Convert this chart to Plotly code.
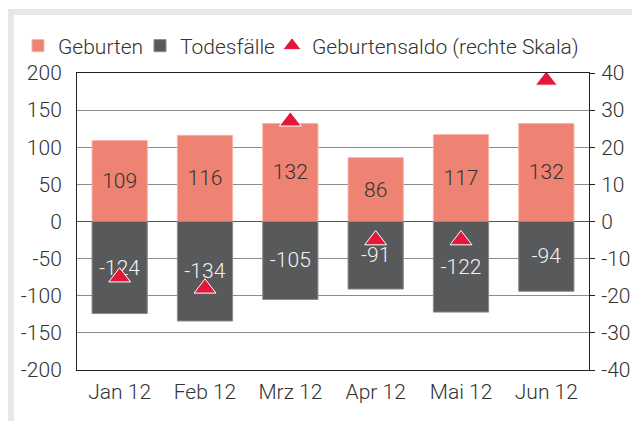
import plotly.graph_objects as go

months = ["Jan 12", "Feb 12", "Mrz 12", "Apr 12", "Mai 12", "Jun 12"]
geburten = [109, 116, 132, 86, 117, 132]
todesfaelle = [-124, -134, -105, -91, -122, -94]
saldo = [-15, -18, 27, -5, -5, 38]

left_ticks = [200, 150, 100, 50, 0, -50, -100, -150, -200]
right_ticks = [40, 30, 20, 10, 0, -10, -20, -30, -40]

C_GEB = "#EE8273"
C_TOD = "#58595B"
C_SAL = "#E2173A"
TXT = "#333333"
FONT = "Roboto"
FS = 21

W, H = 632, 421
L, R, T, B = 77, 43, 73, 51
PW, PH = W - L - R, H - T - B


def px(x):
    return (x - L) / PW


def py(y):
    return (H - B - y) / PH


def lbl(v):
    return [str(x) for x in v]


fig = go.Figure()
fig.add_trace(go.Bar(
    x=months, y=geburten, name="Geburten", marker=dict(color=C_GEB, line=dict(color="#F6B2A8", width=1)),
    text=lbl(geburten), texttemplate="%{text}", textposition="inside", insidetextanchor="middle",
    constraintext="none",
    textfont=dict(color=TXT, size=FS, family=FONT, weight=300), legendwidth=77,
))
fig.add_trace(go.Bar(
    x=months, y=todesfaelle, name="Todesfälle", marker=dict(color=C_TOD, line=dict(color="#8A8B8D", width=1)),
    text=lbl(todesfaelle), texttemplate="%{text}", textposition="inside", insidetextanchor="middle",
    constraintext="none",
    textfont=dict(color="#F2F2F2", size=FS, family=FONT, weight=300), legendwidth=87,
))
fig.add_trace(go.Scatter(
    x=months, y=saldo, name="Geburtensaldo (rechte Skala)", mode="markers", yaxis="y2",
    marker=dict(symbol="triangle-up", size=19, color=C_SAL, line=dict(color="white", width=1)),
))

shapes = [
    dict(type="rect", xref="paper", yref="paper", x0=px(8), x1=px(14), y0=py(421), y1=py(9),
         fillcolor="#E6E7E8", line=dict(width=0), layer="below"),
    dict(type="rect", xref="paper", yref="paper", x0=px(8), x1=px(632), y0=py(15), y1=py(9),
         fillcolor="#E6E7E8", line=dict(width=0), layer="below"),
]

fig.update_layout(
    width=W, height=H, margin=dict(l=L, r=R, t=T, b=B, autoexpand=False),
    paper_bgcolor="white", plot_bgcolor="white",
    font=dict(family=FONT, size=FS, color=TXT, weight=300),
    barmode="relative", bargap=0.353,
    showlegend=True,
    legend=dict(orientation="h", x=px(18), xanchor="left", y=py(46), yanchor="middle",
                font=dict(size=FS, color=TXT, family=FONT, weight=300),
                bgcolor="rgba(0,0,0,0)", traceorder="normal", itemwidth=30),
    xaxis=dict(type="category", range=[-0.5, 5.5], showgrid=False, showline=True, mirror=True,
               linecolor="#222222", linewidth=1, ticks="", ticklabelstandoff=3,
               tickfont=dict(size=FS, color=TXT)),
    yaxis=dict(range=[-200, 200], tickvals=left_ticks, ticktext=lbl(left_ticks),
               showgrid=True, gridcolor="#8C8C8C", gridwidth=1,
               zeroline=True, zerolinecolor="#555555", zerolinewidth=1,
               showline=True, mirror=True, linecolor="#222222", linewidth=1, ticks="",
               ticklabelstandoff=10, tickfont=dict(size=FS, color=TXT)),
    yaxis2=dict(range=[-40, 40], tickvals=right_ticks, ticktext=lbl(right_ticks),
                overlaying="y", side="right", showgrid=False,
                zeroline=False, showline=False, ticks="outside", ticklen=5, tickcolor="#222222",
                ticklabelstandoff=2, tickfont=dict(size=FS, color=TXT)),
    shapes=shapes,
)

fig.write_html("out.html", config={"displayModeBar": False},
               post_script="document.body.style.margin='0';document.body.style.overflow='hidden';")
